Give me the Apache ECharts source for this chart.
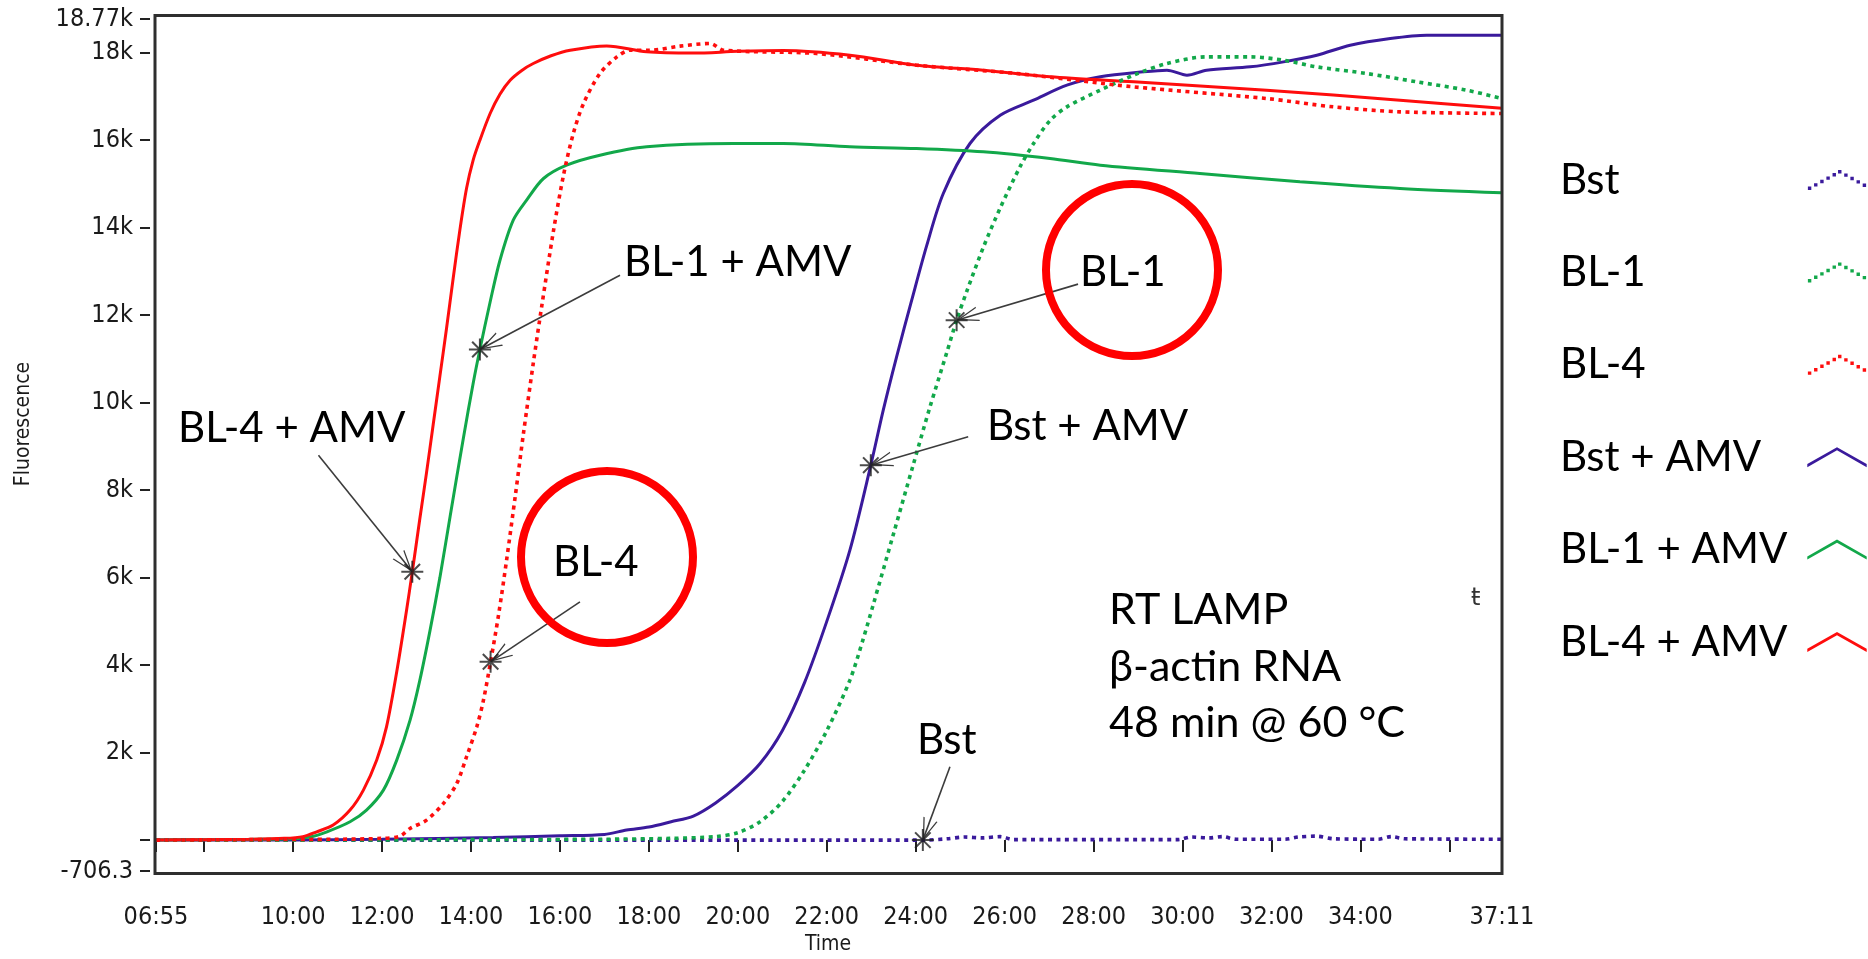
<!DOCTYPE html>
<html>
<head>
<meta charset="utf-8">
<script src="https://cdn.jsdelivr.net/npm/echarts@6.0.0/dist/echarts.min.js"></script>
<style>
html,body{margin:0;padding:0;background:#fff;}
#c{width:1868px;height:959px;}
</style>
</head>
<body>
<div id="c"></div>
<script>
// ---------- axis ticks ----------
const xTickLabels = ['06:55','10:00','12:00','14:00','16:00','18:00','20:00','22:00','24:00','26:00','28:00','30:00','32:00','34:00','37:11'];
const xExtraTicks = ['08:00','36:00'];
const yTickValues = [-706.3, 0, 2000, 4000, 6000, 8000, 10000, 12000, 14000, 16000, 18000, 18770];
const yTickLabels = ['-706.3', '', '2k', '4k', '6k', '8k', '10k', '12k', '14k', '16k', '18k', '18.77k'];

// ---------- series (time in minutes, fluorescence) ----------
const seriesNames = ['Bst', 'BL-1', 'BL-4', 'Bst + AMV', 'BL-1 + AMV', 'BL-4 + AMV'];

const bst = [[6.92,0],[10,0],[14,0],[18,0],[22,0],[24.2,0],[24.7,30],[25.1,70],[25.5,50],[25.9,80],[26.2,10],[29.9,10],[30.2,70],[30.6,50],[30.9,80],[31.2,20],[32.3,20],[32.6,70],[33.0,90],[33.4,30],[34.4,20],[34.7,80],[35.0,30],[37.18,20]];

const bl1 = [[6.92,0],[10,0],[14,10],[17,20],[18.5,40],[19.5,80],[20,170],[20.5,420],[21,880],[21.5,1600],[22,2500],[22.52,3657],[22.82,4600],[23.05,5400],[23.5,7000],[23.95,8600],[24.32,9900],[24.7,11150],[24.92,11886],[25.15,12550],[25.52,13550],[25.9,14450],[26.35,15400],[26.65,15924],[27.02,16450],[27.4,16762],[28.15,17143],[28.9,17486],[29.65,17752],[30.54,17905],[31.52,17905],[32.27,17829],[33.02,17676],[34.14,17524],[35.27,17333],[36.39,17143],[37.18,16952]];

const bl4 = [[6.92,0],[9,10],[11,20],[12.0,40],[12.4,90],[12.63,267],[13.0,457],[13.38,838],[13.68,1295],[13.9,1905],[14.13,2590],[14.28,3200],[14.44,4076],[14.62,5150],[14.8,6400],[15.0,7900],[15.18,9300],[15.4,10900],[15.59,12200],[15.85,13900],[16.08,15200],[16.3,16150],[16.53,16838],[16.9,17524],[17.28,17905],[17.58,18057],[18.03,18057],[18.7,18150],[19.38,18210],[19.68,18057],[21.77,17981],[24.02,17714],[26.27,17524],[28.9,17219],[31.89,16952],[33.39,16762],[34.89,16648],[37.18,16610]];

const bstAmv = [[6.92,0],[10,0],[12,20],[14.5,60],[16,100],[17,130],[17.5,230],[18,300],[18.5,420],[19,550],[19.5,850],[20,1250],[20.5,1750],[21,2500],[21.5,3600],[22,5000],[22.52,6629],[22.99,8571],[23.27,9829],[23.57,11048],[23.91,12343],[24.25,13600],[24.62,14781],[25.22,15924],[25.9,16570],[26.65,16914],[27.4,17257],[28.15,17448],[29.12,17562],[29.65,17600],[30.1,17486],[30.54,17600],[31.52,17676],[32.27,17790],[33.02,17943],[33.77,18171],[34.67,18324],[35.49,18400],[37.18,18400]];

const bl1Amv = [[6.92,0],[8,10],[9,15],[10,30],[10.38,70],[10.76,190],[11.28,419],[11.65,686],[12.03,1143],[12.33,1829],[12.63,2743],[12.85,3657],[13.08,4800],[13.3,6000],[13.53,7400],[13.83,9200],[14.05,10450],[14.2,11215],[14.43,12300],[14.65,13250],[14.95,14171],[15.25,14629],[15.63,15124],[16.15,15429],[16.9,15657],[17.95,15848],[19.9,15924],[21.02,15924],[22.52,15848],[24.02,15810],[25.52,15733],[27.02,15581],[28.15,15429],[30.39,15238],[32.64,15048],[34.89,14895],[37.18,14796]];

const bl4Amv = [[6.92,0],[8,10],[9,20],[9.8,40],[10.22,80],[10.53,190],[10.9,343],[11.28,686],[11.58,1143],[11.88,1829],[12.1,2590],[12.33,3850],[12.55,5250],[12.68,6133],[12.85,7350],[13.0,8400],[13.15,9500],[13.3,10600],[13.45,11700],[13.6,12850],[13.75,13950],[13.9,14900],[14.05,15550],[14.2,16000],[14.43,16610],[14.65,17050],[14.88,17371],[15.15,17600],[15.4,17752],[15.8,17930],[16.23,18057],[17.05,18155],[17.95,18019],[19,17990],[20,18030],[21.02,18050],[22.52,17943],[24.02,17714],[25.52,17600],[27.02,17448],[28.9,17333],[31.89,17143],[34.89,16914],[37.18,16731]];

// threshold markers (time, fluorescence) on the curves
const thresholdPoints = [[12.68,6133],[14.20,11215],[14.44,4076],[22.99,8571],[24.92,11886],[24.16,0]];
// arrow tails (time, fluorescence) pointing to the markers above, same order
const arrowTails = [[10.57,8800],[17.35,12914],[16.45,5447],[25.18,9219],[27.65,12709],[24.77,1676]];

// ---------- helpers ----------
function parseMMSS(s){ const p = s.split(':'); return (+p[0]) + (+p[1])/60; }
const xLabelValues = xTickLabels.map(parseMMSS);
const xTickValues = xLabelValues.concat(xExtraTicks.map(parseMMSS)).sort((a,b)=>a-b);
const xMin = xLabelValues[0], xMax = xLabelValues[xLabelValues.length-1];

const RED = '#ff0d0d', GREEN = '#12a84a', BLUE = '#3a1a9c';
const seriesData = [bst, bl1, bl4, bstAmv, bl1Amv, bl4Amv];
const seriesColors = [BLUE, GREEN, RED, BLUE, GREEN, RED];
const seriesDotted = [true, true, true, false, false, false];

function dottedCaret(){
  const pts = [[0,18],[30,1.5],[60,18]];
  let d = '';
  for (let i = 0; i < pts.length-1; i++){
    const [x1,y1] = pts[i], [x2,y2] = pts[i+1];
    const len = Math.hypot(x2-x1, y2-y1);
    for (let s = 0; s <= len; s += 7){
      const t = s/len, x = x1 + (x2-x1)*t, y = y1 + (y2-y1)*t;
      d += 'M' + (x-1.7).toFixed(2) + ',' + (y-1.7).toFixed(2) + 'h3.4v3.4h-3.4Z';
    }
  }
  return 'path://' + d;
}
const solidCaret = 'path://M0,17 L30,0 L60,17 L60,20.2 L30,3.2 L0,20.2 Z';
const dotCaret = dottedCaret();

const starPath = 'path://M9.1,0h1.8v20h-1.8Z M0,9.1h20v1.8h-20Z M2.3,3.6l1.3,-1.3l14.1,14.1l-1.3,1.3Z M16.4,2.3l1.3,1.3l-14.1,14.1l-1.3,-1.3Z';
// open arrow head, tip placed at the symbol centre
const arrowHead = 'path://M50,100 L100,200 L91,200 L50,118 L9,200 L0,200 Z M50,0 L50.2,0 L50,0.2 Z';

const FONT_AX = "'DejaVu Sans Condensed','DejaVu Sans',sans-serif";
const FONT_TX = "Lato,'Open Sans',sans-serif";

const chart = echarts.init(document.getElementById('c'), null, {renderer:'canvas'});

const lineSeries = seriesNames.map((name, i) => ({
  name: name,
  type: 'line',
  data: seriesData[i],
  showSymbol: false,
  symbol: 'none',
  smooth: 0.3,
  color: seriesColors[i],
  lineStyle: {
    color: seriesColors[i],
    width: seriesDotted[i] ? 3.6 : 3,
    type: seriesDotted[i] ? [4, 4.5] : 'solid',
    cap: 'butt'
  },
  z: seriesDotted[i] ? 3 : 2,
  silent: true
}));

const annotations = [
  {text:'BL-4 + AMV', x:178, y:428, size:42},
  {text:'BL-1 + AMV', x:624, y:262, size:42},
  {text:'BL-4', x:553, y:562, size:42},
  {text:'BL-1', x:1080, y:272, size:42},
  {text:'Bst + AMV', x:987, y:426, size:42},
  {text:'Bst', x:917, y:740, size:42},
  {text:'RT LAMP', x:1109, y:610, size:43},
  {text:'\u03b2-actin RNA', x:1109, y:667, size:43},
  {text:'48 min @ 60 \u00b0C', x:1109, y:723, size:43}
];
const rings = [{cx:607, cy:557}, {cx:1132, cy:270}];

const graphics = [
  {type:'rect', shape:{x:155, y:15.5, width:1347, height:858}, style:{fill:'none', stroke:'#2e2e2e', lineWidth:3}, z:50, silent:true},
  {type:'text', x:24, y:424, rotation:Math.PI/2, style:{text:'Fluorescence', fontSize:21, fontFamily:FONT_AX, fill:'#1a1a1a', align:'center', verticalAlign:'middle'}, silent:true},
  {type:'text', x:828, y:945, style:{text:'Time', fontSize:21, fontFamily:FONT_AX, fill:'#1a1a1a', align:'center', verticalAlign:'middle'}, silent:true},
  {type:'text', x:1471, y:599, style:{text:'\u0167', fontSize:24, fontFamily:'DejaVu Sans', fill:'#333', align:'left', verticalAlign:'middle'}, silent:true}
].concat(rings.map(r => ({
  type:'circle', shape:{cx:r.cx, cy:r.cy, r:86}, style:{fill:'none', stroke:'#ff0000', lineWidth:8}, z:40, silent:true
}))).concat(annotations.map(a => ({
  type:'text', x:a.x, y:a.y, style:{text:a.text, fontSize:a.size, fontFamily:FONT_TX, fill:'#000', align:'left', verticalAlign:'middle'}, z:45, silent:true
})));

const option = {
  animation: false,
  backgroundColor: '#ffffff',
  grid: {left:156, top:19, width:1346, height:852, containLabel:false, show:false},
  xAxis: {
    type: 'value', min: xMin, max: xMax, offset: 7,
    axisLine: {show:false},
    splitLine: {show:false},
    axisTick: {show:true, length:12, customValues: xTickValues, lineStyle:{color:'#222', width:2}},
    axisLabel: {
      customValues: xLabelValues, margin: 27, fontSize: 25, fontFamily: FONT_AX, color: '#1a1a1a',
      formatter: v => { const i = xLabelValues.findIndex(t => Math.abs(t - v) < 1e-6); return i >= 0 ? xTickLabels[i] : ''; }
    }
  },
  yAxis: {
    type: 'value', min: yTickValues[0], max: yTickValues[yTickValues.length-1], offset: 6,
    axisLine: {show:false},
    splitLine: {show:false},
    axisTick: {show:true, length:10, customValues: yTickValues, lineStyle:{color:'#222', width:2}},
    axisLabel: {
      customValues: yTickValues, margin: 17, fontSize: 25, fontFamily: FONT_AX, color: '#1a1a1a',
      formatter: v => { const i = yTickValues.findIndex(t => Math.abs(t - v) < 1e-6); return i >= 0 ? yTickLabels[i] : ''; }
    }
  },
  legend: {
    orient: 'vertical', left: 1560, top: 155, padding: 0,
    itemWidth: 60, itemHeight: 20, itemGap: 42.4, align: 'right',
    selectedMode: false,
    itemStyle: {borderWidth: 0},
    formatter: name => '{n|' + name + '}',
    textStyle: {
      fontSize: 42, fontFamily: FONT_TX, color: '#000', lineHeight: 50,
      rich: {n: {width: 242, align: 'left', fontSize: 42, fontFamily: FONT_TX, color: '#000', lineHeight: 50}}
    },
    data: seriesNames.map((n, i) => ({name: n, icon: seriesDotted[i] ? dotCaret : solidCaret}))
  },
  tooltip: {show:false},
  series: lineSeries.concat([{
    name: 'thresholds',
    type: 'scatter',
    data: thresholdPoints,
    symbol: starPath,
    symbolSize: 22,
    itemStyle: {color: '#1e1e1e'},
    z: 10,
    silent: true,
    markLine: {
      silent: true,
      symbol: ['none', arrowHead],
      symbolSize: [15, 44],
      lineStyle: {color: '#3c3c3c', width: 1.6, type: 'solid'},
      label: {show: false},
      emphasis: {disabled: true},
      data: thresholdPoints.map((p, i) => [{coord: arrowTails[i]}, {coord: p}])
    }
  }]),
  graphic: graphics
};

chart.setOption(option);
</script>
</body>
</html>
